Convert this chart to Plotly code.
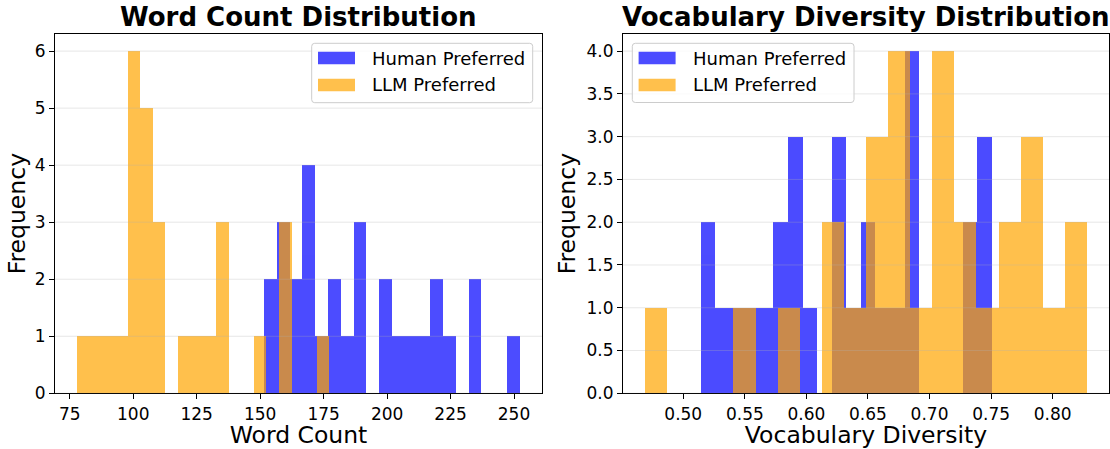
import plotly.graph_objects as go
import numpy as np

W, H = 1110, 449

# ---- data (histogram bins) ----
wc_human_start = 151.5
wc_human_width = 5.04
wc_human_counts = [2, 3, 2, 4, 1, 2, 1, 3, 0, 2, 1, 1, 1, 2, 1, 0, 2, 0, 0, 1]

wc_llm_start = 77.9
wc_llm_width = 4.97
wc_llm_counts = [1, 1, 1, 1, 6, 5, 3, 0, 1, 1, 1, 3, 0, 0, 1, 0, 3, 0, 0, 1]

vd_human_start = 0.5141
vd_human_width = 0.01183
vd_human_counts = [2, 1, 1, 1, 1, 2, 3, 1, 0, 3, 1, 2, 1, 1, 4, 0, 0, 0, 2, 3]

vd_llm_start = 0.469
vd_llm_width = 0.01794
vd_llm_counts = [1, 0, 0, 0, 1, 0, 1, 0, 2, 1, 3, 4, 1, 4, 2, 1, 2, 3, 1, 2]

wc_xticks = [75, 100, 125, 150, 175, 200, 225, 250]
wc_yticks = [0, 1, 2, 3, 4, 5, 6]
vd_xticks = [0.50, 0.55, 0.60, 0.65, 0.70, 0.75, 0.80]
vd_xticklabels = ["0.50", "0.55", "0.60", "0.65", "0.70", "0.75", "0.80"]
vd_yticks = [0.0, 0.5, 1.0, 1.5, 2.0, 2.5, 3.0, 3.5, 4.0]
vd_yticklabels = ["0.0", "0.5", "1.0", "1.5", "2.0", "2.5", "3.0", "3.5", "4.0"]

series_names = ["Human Preferred", "LLM Preferred"]
series_colors = ["blue", "orange"]

FONT = "DejaVu Sans"


def centers(start, width, counts):
    return start + width * (np.arange(len(counts)) + 0.5)


def edges_range(specs):
    lo = min(s for s, w, c in specs)
    hi = max(s + w * len(c) for s, w, c in specs)
    m = (hi - lo) * 0.05
    return [lo - m, hi + m]


fig = go.Figure()

panels = [
    ("x", "y",
     [(wc_human_start, wc_human_width, wc_human_counts),
      (wc_llm_start, wc_llm_width, wc_llm_counts)]),
    ("x2", "y2",
     [(vd_human_start, vd_human_width, vd_human_counts),
      (vd_llm_start, vd_llm_width, vd_llm_counts)]),
]

for xa, ya, specs in panels:
    for (start, width, counts), name, col in zip(specs, series_names, series_colors):
        fig.add_trace(go.Bar(
            x=centers(start, width, counts), y=counts, width=width,
            name=name, marker=dict(color=col, line=dict(width=0)),
            opacity=0.7, xaxis=xa, yaxis=ya, showlegend=False,
        ))

wc_xrange = edges_range(panels[0][2])
vd_xrange = edges_range(panels[1][2])
wc_yrange = [0, max(max(wc_human_counts), max(wc_llm_counts)) * 1.05]
vd_yrange = [0, max(max(vd_human_counts), max(vd_llm_counts)) * 1.05]

ydom = [1 - 393.3 / H, 1 - 34 / H]
tickfont = dict(family=FONT, size=17, color="black")
titlefont = dict(family=FONT, size=23.5, color="black")

axis_common = dict(
    showline=True, mirror=True, linecolor="black", linewidth=1,
    ticks="outside", ticklen=5, tickwidth=1, tickcolor="black",
    showgrid=False, zeroline=False, tickfont=tickfont, automargin=False,
)

fig.update_layout(
    width=W, height=H,
    margin=dict(l=0, r=0, t=0, b=0),
    paper_bgcolor="white", plot_bgcolor="white",
    barmode="overlay", bargap=0,
    font=dict(family=FONT, color="black"),
    xaxis=dict(domain=[55 / W, 542 / W], anchor="y", range=wc_xrange,
               tickvals=wc_xticks,
               title=dict(text="Word Count", font=titlefont, standoff=11),
               **axis_common),
    yaxis=dict(domain=ydom, anchor="x", range=wc_yrange, tickvals=wc_yticks,
               title=dict(text="Frequency", font=titlefont, standoff=2),
               **axis_common),
    xaxis2=dict(domain=[623 / W, 1109 / W], anchor="y2", range=vd_xrange,
                tickvals=vd_xticks, ticktext=vd_xticklabels,
                title=dict(text="Vocabulary Diversity", font=titlefont, standoff=11),
                **axis_common),
    yaxis2=dict(domain=ydom, anchor="x2", range=vd_yrange, tickvals=vd_yticks,
                ticktext=vd_yticklabels,
                title=dict(text="Frequency", font=titlefont, standoff=4),
                **axis_common),
)

# grid lines drawn above the bars, as in the original
shapes = []
for ya, xa, ticks in [("y", "x", wc_yticks), ("y2", "x2", vd_yticks)]:
    for t in ticks:
        shapes.append(dict(type="line", xref=f"{xa} domain", yref=ya,
                           x0=0, x1=1, y0=t, y1=t, layer="above",
                           line=dict(color="rgba(176,176,176,0.3)", width=1)))


# matplotlib-style legends (box with wide colour patches), one per panel
def px(x):
    return x / W


def py(y):
    return 1 - y / H


def rounded_rect(x0, y0, x1, y1, r=3):
    X0, X1 = px(x0), px(x1)
    Y0, Y1 = py(y0), py(y1)
    rx, ry = r / W, r / H
    return (f"M{X0 + rx},{Y0} L{X1 - rx},{Y0} Q{X1},{Y0} {X1},{Y0 - ry} "
            f"L{X1},{Y1 + ry} Q{X1},{Y1} {X1 - rx},{Y1} "
            f"L{X0 + rx},{Y1} Q{X0},{Y1} {X0},{Y1 + ry} "
            f"L{X0},{Y0 - ry} Q{X0},{Y0} {X0 + rx},{Y0} Z")


legend_boxes = [(311.7, 43.3, 532.7, 102.7), (632.3, 43.3, 854.0, 102.5)]
annotations = []
for (bx0, by0, bx1, by1) in legend_boxes:
    shapes.append(dict(type="path", xref="paper", yref="paper",
                       path=rounded_rect(bx0, by0, bx1, by1), layer="above",
                       fillcolor="rgba(255,255,255,0.8)",
                       line=dict(color="#cccccc", width=1)))
    for i, (name, col) in enumerate(zip(series_names, series_colors)):
        cy = by0 + 14.7 + 27 * i
        shapes.append(dict(type="rect", xref="paper", yref="paper",
                           x0=px(bx0 + 6.3), x1=px(bx0 + 43.3),
                           y0=py(cy - 6.3), y1=py(cy + 6.3), layer="above",
                           fillcolor=col, opacity=0.7, line=dict(width=0)))
        annotations.append(dict(text=name, x=px(bx0 + 58.5), y=py(cy),
                                xref="paper", yref="paper", xanchor="left",
                                yanchor="middle", showarrow=False,
                                font=dict(family=FONT, size=18, color="black")))

# panel titles
titles = [("Word Count Distribution", (55 + 542) / 2 / W),
          ("Vocabulary Diversity Distribution", (623 + 1109) / 2 / W)]
for text, xc in titles:
    annotations.append(dict(text=text, x=xc, y=py(17.5), xref="paper", yref="paper",
                            xanchor="center", yanchor="middle", showarrow=False,
                            font=dict(family=FONT, size=26, color="black",
                                      weight="bold")))

fig.update_layout(shapes=shapes, annotations=annotations)

fig.write_html("out.html", config={"displayModeBar": False},
               post_script="document.body.style.margin='0';")
